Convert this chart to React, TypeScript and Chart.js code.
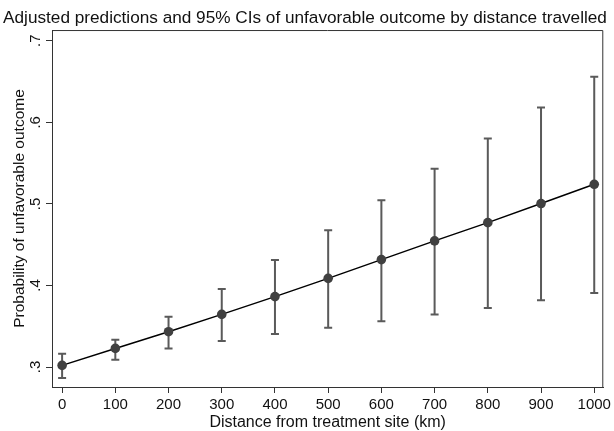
import React, { useEffect, useRef } from "react";
import { Chart, registerables } from "chart.js";

Chart.register(...registerables);

const distances = [0, 100, 200, 300, 400, 500, 600, 700, 800, 900, 1000];
const predicted = [0.302, 0.3228, 0.3433, 0.3645, 0.3863, 0.4087, 0.4317, 0.4546, 0.477, 0.5004, 0.524];
const ciLower = [0.2865, 0.309, 0.3228, 0.3319, 0.3405, 0.3482, 0.356, 0.3645, 0.3724, 0.3817, 0.3908];
const ciUpper = [0.3163, 0.3335, 0.3617, 0.3957, 0.4313, 0.4676, 0.5044, 0.543, 0.58, 0.618, 0.6558];
const xTicks = [0, 100, 200, 300, 400, 500, 600, 700, 800, 900, 1000];
const yTicks = [0.3, 0.4, 0.5, 0.6, 0.7];
const yTickLabels = [".3", ".4", ".5", ".6", ".7"];

const FONT = "'Liberation Sans', Arial, Helvetica, sans-serif";

const errorBarPlugin = {
  id: "errorBars",
  beforeDatasetsDraw(chart: any) {
    const meta = chart.getDatasetMeta(0);
    const y = chart.scales.y;
    const ctx = chart.ctx;
    ctx.save();
    ctx.strokeStyle = "#5a5a5a";
    ctx.lineWidth = 2;
    meta.data.forEach((pt: any, i: number) => {
      const yl = y.getPixelForValue(ciLower[i]);
      const yu = y.getPixelForValue(ciUpper[i]);
      const x = pt.x;
      ctx.beginPath();
      ctx.moveTo(x, yl);
      ctx.lineTo(x, yu);
      ctx.moveTo(x - 4, yl);
      ctx.lineTo(x + 4, yl);
      ctx.moveTo(x - 4, yu);
      ctx.lineTo(x + 4, yu);
      ctx.stroke();
    });
    ctx.restore();
  },
};

const framePlugin = {
  id: "frameAndYLabels",
  afterDraw(chart: any) {
    const { ctx, chartArea } = chart;
    ctx.save();
    ctx.strokeStyle = "#333333";
    ctx.lineWidth = 1;
    ctx.beginPath();
    ctx.moveTo(chartArea.left, chartArea.top + 0.5);
    ctx.lineTo(chartArea.right - 0.5, chartArea.top + 0.5);
    ctx.lineTo(chartArea.right - 0.5, chartArea.bottom);
    ctx.stroke();
    const y = chart.scales.y;
    ctx.fillStyle = "#111111";
    ctx.font = `15px ${FONT}`;
    ctx.textAlign = "center";
    ctx.textBaseline = "middle";
    yTicks.forEach((v, i) => {
      const py = y.getPixelForValue(v);
      ctx.save();
      ctx.translate(chartArea.left - 16, py);
      ctx.rotate(-Math.PI / 2);
      ctx.fillText(yTickLabels[i], 0, 0);
      ctx.restore();
    });
    ctx.restore();
  },
};

export default function App() {
  const canvasRef = useRef<HTMLCanvasElement | null>(null);

  useEffect(() => {
    document.body.style.margin = "0";
    const canvas = canvasRef.current;
    if (!canvas) return;
    const chart = new Chart(canvas, {
      type: "line",
      data: {
        datasets: [
          {
            data: distances.map((d, i) => ({ x: d, y: predicted[i] })),
            borderColor: "#000000",
            borderWidth: 1.5,
            pointRadius: 4.8,
            pointBackgroundColor: "#404040",
            pointBorderColor: "#404040",
            pointBorderWidth: 0,
            tension: 0,
            fill: false,
          },
        ],
      },
      options: {
        animation: false,
        responsive: false,
        devicePixelRatio: 1,
        layout: { padding: { top: 0, right: 4, left: 0, bottom: 0 } },
        plugins: {
          legend: { display: false },
          tooltip: { enabled: false },
          title: {
            display: true,
            text: "Adjusted predictions and 95% CIs of unfavorable outcome by distance travelled",
            color: "#111111",
            font: { family: FONT, size: 17.2, weight: "normal", lineHeight: 1.2 },
            padding: { top: 8, bottom: 1.4 },
          },
        },
        scales: {
          x: {
            type: "linear",
            min: -19,
            max: 1017,
            afterBuildTicks: (scale: any) => {
              scale.ticks = xTicks.map((v) => ({ value: v }));
            },
            afterFit: (scale: any) => {
              scale.height = 44;
            },
            ticks: {
              color: "#111111",
              font: { family: FONT, size: 15 },
              padding: 3,
              maxRotation: 0,
              minRotation: 0,
              callback: (v: any) => String(v),
            },
            grid: {
              drawOnChartArea: false,
              drawTicks: true,
              tickLength: 6,
              color: "#333333",
            },
            border: { display: true, color: "#333333", width: 1 },
            title: {
              display: true,
              text: "Distance from treatment site (km)",
              color: "#111111",
              font: { family: FONT, size: 16 },
              padding: { top: 0, bottom: -1 },
            },
          },
          y: {
            type: "linear",
            min: 0.2755,
            max: 0.7131,
            afterBuildTicks: (scale: any) => {
              scale.ticks = yTicks.map((v) => ({ value: v }));
            },
            afterFit: (scale: any) => {
              scale.width = 52;
            },
            ticks: {
              callback: () => "",
              padding: 0,
            },
            grid: {
              drawOnChartArea: false,
              drawTicks: true,
              tickLength: 6,
              color: "#333333",
            },
            border: { display: true, color: "#333333", width: 1 },
            title: {
              display: true,
              text: "Probability of unfavorable outcome",
              color: "#111111",
              font: { family: FONT, size: 15.5 },
              padding: { top: 10, bottom: 0 },
            },
          },
        },
      },
      plugins: [errorBarPlugin, framePlugin],
    });
    return () => chart.destroy();
  }, []);

  return <canvas ref={canvasRef} width={614} height={431} style={{ display: "block" }} />;
}
